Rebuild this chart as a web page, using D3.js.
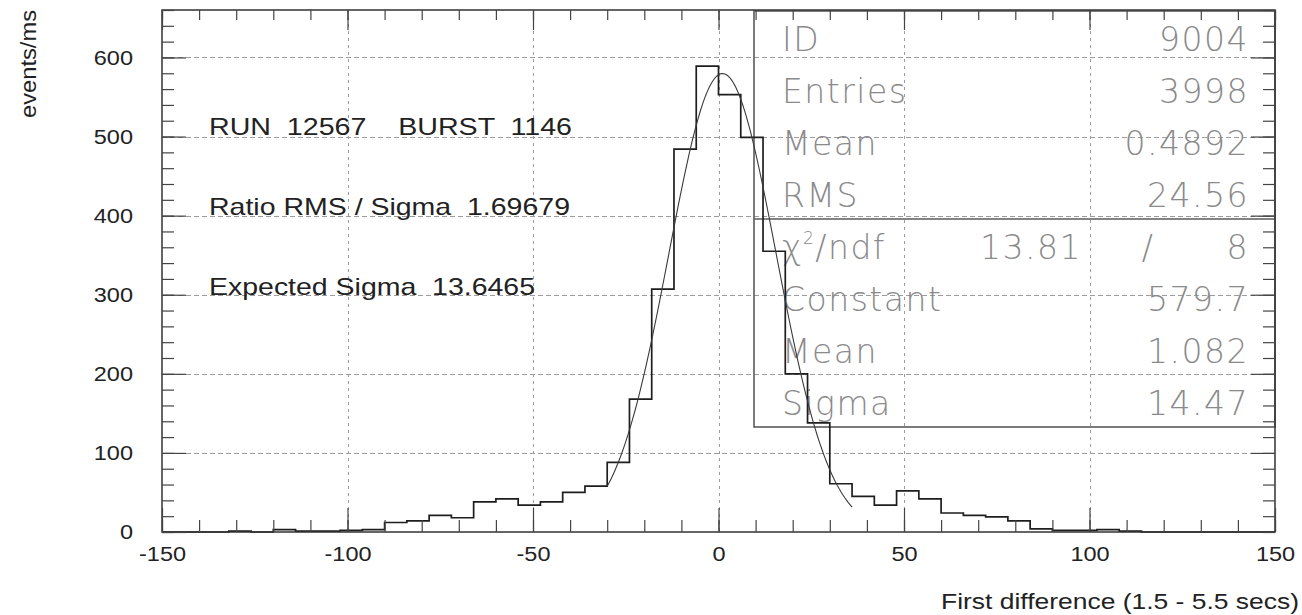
<!DOCTYPE html>
<html><head><meta charset="utf-8">
<script src="https://cdn.jsdelivr.net/npm/d3@7/dist/d3.min.js"></script>
<style>
body{margin:0;background:#fff}
svg{display:block}
text{white-space:pre}
</style>
</head><body>
<svg id="c" width="1302" height="615"></svg>
<script>
// ---------- data ----------
const binStart = -150;
const binWidth = 6;
const counts = [0,0,0,1,0,3,1,1,2,3,
                12,14,21,18,38,42,34,38,50,58,
                88,168,307,484,589,553,499,355,200,138,
                61,45,34,52,42,24,21,19,14,4,
                2,2,3,1,0,0,0,0,0,0];
const fitConstant = 579.7, fitMean = 1.082, fitSigma = 14.47;
const fitRange = [-30, 36];
const xMajorTicks = [-150,-100,-50,0,50,100,150];
const yMajorTicks = [0,100,200,300,400,500,600];
const statLabels = ["ID","Entries","Mean","RMS"];
const statValues = ["9004","3998","0.4892","24.56"];
const chi2Value = "13.81", ndfValue = "8";
const fitLabels = ["Constant","Mean","Sigma"];
const fitValues = ["579.7","1.082","14.47"];
const notes = ["RUN  12567    BURST  1146","Ratio RMS / Sigma  1.69679","Expected Sigma  13.6465"];
const xTitle = "First difference (1.5 - 5.5 secs)";
const yTitle = "events/ms";

// ---------- layout ----------
const L=162, R=1275, T=10, B=532;
const x = d3.scaleLinear([-150,150],[L,R]);
const y = d3.scaleLinear([0,660],[B,T]);
const svg = d3.select("#c");
const SANS = "'Liberation Sans', Arial, sans-serif";
const SX = 1.12;

// grid
const grid = svg.append("g").attr("stroke","#9c9c9c").attr("stroke-width",1);
grid.selectAll(".gx").data(xMajorTicks.slice(1,-1)).join("line")
  .attr("x1",d=>Math.round(x(d))+0.5).attr("x2",d=>Math.round(x(d))+0.5)
  .attr("y1",T).attr("y2",B).attr("stroke-dasharray","3,4");
grid.selectAll(".gy").data(yMajorTicks.slice(1)).join("line")
  .attr("x1",L).attr("x2",R)
  .attr("y1",d=>Math.round(y(d))+0.5).attr("y2",d=>Math.round(y(d))+0.5)
  .attr("stroke-dasharray","5,3");

// stats box
const bx0=754, bTop=11, bDiv=219, bBot=427;
svg.append("rect").attr("x",bx0).attr("y",bTop).attr("width",R-bx0).attr("height",bBot-bTop)
  .attr("fill","none").attr("stroke","#5a5a5a").attr("stroke-width",1.6);
svg.append("line").attr("x1",bx0).attr("x2",R).attr("y1",bDiv).attr("y2",bDiv)
  .attr("stroke","#5a5a5a").attr("stroke-width",1.6);
const st = svg.append("g").attr("font-family","'DejaVu Sans', sans-serif")
  .attr("font-weight",200).attr("font-size",33).attr("fill","#8a8a8a")
  .attr("letter-spacing","1.5px");
const labX = 782, valX = 1249;
const rowY = [51,103,155,207];
const rowY2 = [311,363,415];
statLabels.forEach((t,i)=>{
  st.append("text").attr("x",labX).attr("y",rowY[i]).text(t);
  st.append("text").attr("x",valX).attr("y",rowY[i]).attr("text-anchor","end").text(statValues[i]);
});
const chi = st.append("text").attr("x",labX).attr("y",259);
chi.append("tspan").text("χ");
chi.append("tspan").attr("font-size",17).attr("dy",-15).text("2");
chi.append("tspan").attr("dy",15).text("/ndf");
st.append("text").attr("x",1082).attr("y",259).attr("text-anchor","end").text(chi2Value);
st.append("text").attr("x",1148).attr("y",259).attr("text-anchor","middle").text("/");
st.append("text").attr("x",valX).attr("y",259).attr("text-anchor","end").text(ndfValue);
fitLabels.forEach((t,i)=>{
  st.append("text").attr("x",labX).attr("y",rowY2[i]).text(t);
  st.append("text").attr("x",valX).attr("y",rowY2[i]).attr("text-anchor","end").text(fitValues[i]);
});

// histogram
const pts = counts.map((c,i)=>[binStart+i*binWidth,c]);
pts.push([binStart+counts.length*binWidth, counts[counts.length-1]]);
svg.append("path").datum(pts)
  .attr("d", d3.line().x(d=>x(d[0])).y(d=>y(d[1])).curve(d3.curveStepAfter))
  .attr("fill","none").attr("stroke","#1e1e1e").attr("stroke-width",1.7);

// fit curve
const fitPts = d3.range(fitRange[0], fitRange[1]+0.001, 0.5)
  .map(v=>[v, fitConstant*Math.exp(-0.5*((v-fitMean)/fitSigma)**2)]);
svg.append("path").datum(fitPts)
  .attr("d", d3.line().x(d=>x(d[0])).y(d=>y(d[1])))
  .attr("fill","none").attr("stroke","#3a3a3a").attr("stroke-width",1.1);

// frame + axes
svg.append("rect").attr("x",L).attr("y",T).attr("width",R-L).attr("height",B-T)
  .attr("fill","none").attr("stroke","#333").attr("stroke-width",1.5);
const xMinor = d3.range(-150,150.1,10);
const yMinor = d3.range(0,660.1,20);
function styleAxis(g){ g.select(".domain").remove(); g.selectAll("line").attr("stroke","#444").attr("stroke-width",1.2); }
svg.append("g").attr("transform",`translate(0,${B})`)
  .call(d3.axisBottom(x).tickValues(xMinor).tickSize(-12).tickFormat("")).call(styleAxis);
svg.append("g").attr("transform",`translate(0,${T})`)
  .call(d3.axisTop(x).tickValues(xMinor).tickSize(-10).tickFormat("")).call(styleAxis);
svg.append("g").attr("transform",`translate(${L},0)`)
  .call(d3.axisLeft(y).tickValues(yMinor).tickSize(-12).tickFormat("")).call(styleAxis);
svg.append("g").attr("transform",`translate(${R},0)`)
  .call(d3.axisRight(y).tickValues(yMinor).tickSize(-12).tickFormat("")).call(styleAxis);

const plain = d => String(d);
const xa = svg.append("g").attr("transform",`translate(0,${B})`)
  .call(d3.axisBottom(x).tickValues(xMajorTicks).tickSize(-24).tickPadding(14).tickFormat(plain))
  .call(styleAxis);
xa.selectAll("text").attr("font-family",SANS).attr("font-size",21).attr("fill","#222")
  .attr("transform",`scale(${SX},1)`);
const ya = svg.append("g").attr("transform",`translate(${L},0)`)
  .call(d3.axisLeft(y).tickValues(yMajorTicks).tickSize(-24).tickPadding(29).tickFormat(plain))
  .call(styleAxis);
ya.selectAll("text").attr("font-family",SANS).attr("font-size",21).attr("fill","#222")
  .attr("x",-29/SX).attr("transform",`scale(${SX},1)`);
svg.append("g").attr("transform",`translate(${R},0)`)
  .call(d3.axisRight(y).tickValues(yMajorTicks.slice(1)).tickSize(-24).tickFormat(""))
  .call(styleAxis);
svg.append("g").attr("transform",`translate(0,${T})`)
  .call(d3.axisTop(x).tickValues(xMajorTicks).tickSize(-20).tickFormat(""))
  .call(styleAxis);

// titles
svg.append("text").attr("x",1299).attr("y",609)
  .attr("text-anchor","end").attr("font-family",SANS).attr("font-size",22).attr("fill","#222")
  .attr("textLength",358).attr("lengthAdjust","spacingAndGlyphs")
  .text(xTitle);
svg.append("text").attr("transform",`translate(36,10) rotate(-90)`)
  .attr("text-anchor","end").attr("font-family",SANS).attr("font-size",22).attr("fill","#222")
  .attr("textLength",108).attr("lengthAdjust","spacingAndGlyphs")
  .text(yTitle);

// notes
const noteY = [135,215,295];
const noteW = [363,361,326];
notes.forEach((t,i)=>{
  svg.append("text").attr("x",209).attr("y",noteY[i])
    .attr("font-family",SANS).attr("font-size",24).attr("fill","#222")
    .attr("textLength",noteW[i]).attr("lengthAdjust","spacingAndGlyphs").text(t);
});
</script>
</body></html>
